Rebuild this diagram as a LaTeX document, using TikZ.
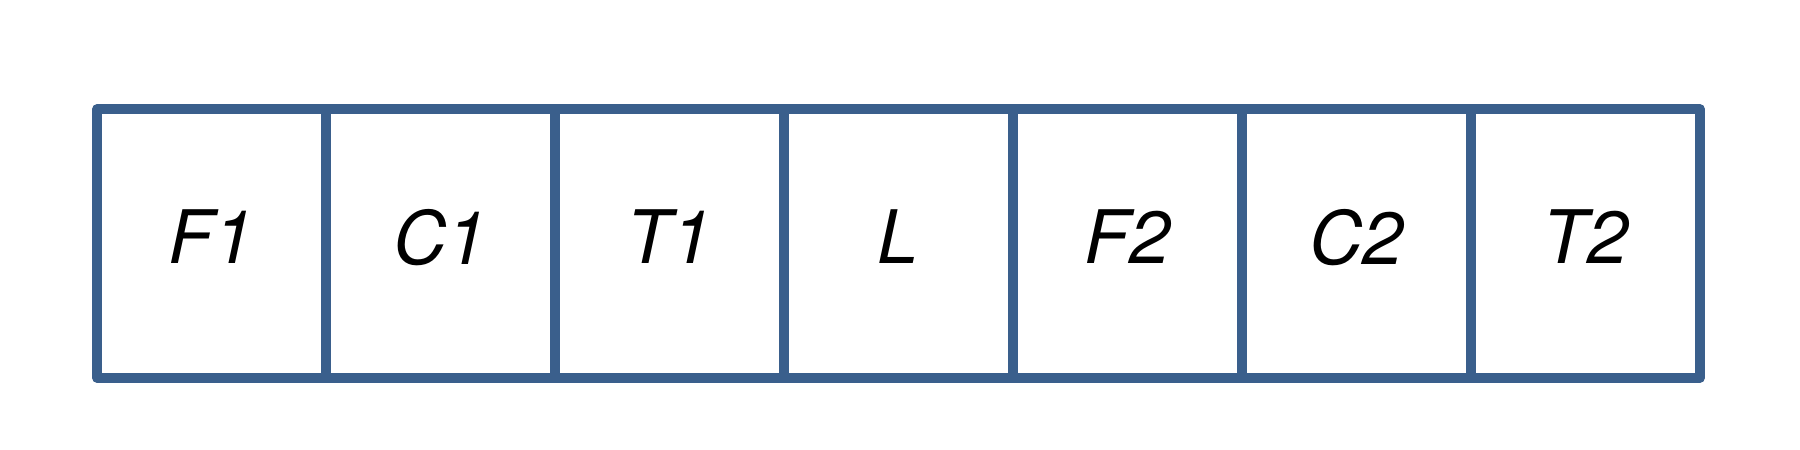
\documentclass[tikz,border=0pt]{standalone}
\usepackage{fontspec}
\setmainfont{TeX Gyre Heros}
\usepackage{tikz}
\usetikzlibrary{positioning}
\definecolor{cellblue}{RGB}{58,95,140}

\begin{document}
\begin{tikzpicture}[
    cell/.style={draw=cellblue, line width=2.6pt, line join=round,
      minimum width=2.29cm, minimum height=2.69cm, inner sep=0pt,
      outer sep=0pt, text depth=0.13cm,
      font=\itshape\fontsize{21}{25}\selectfont}]
    \useasboundingbox (0,0) rectangle (18,4.5);

    \node[cell] (c1) at (2.115,2.065) {F1};
    \foreach \name [count=\i from 2, evaluate=\i as \j using int(\i-1)] in {C1,T1,L,F2,C2,T2}
      \node[cell, right=0pt of c\j] (c\i) {\name};

  \end{tikzpicture}
\end{document}
